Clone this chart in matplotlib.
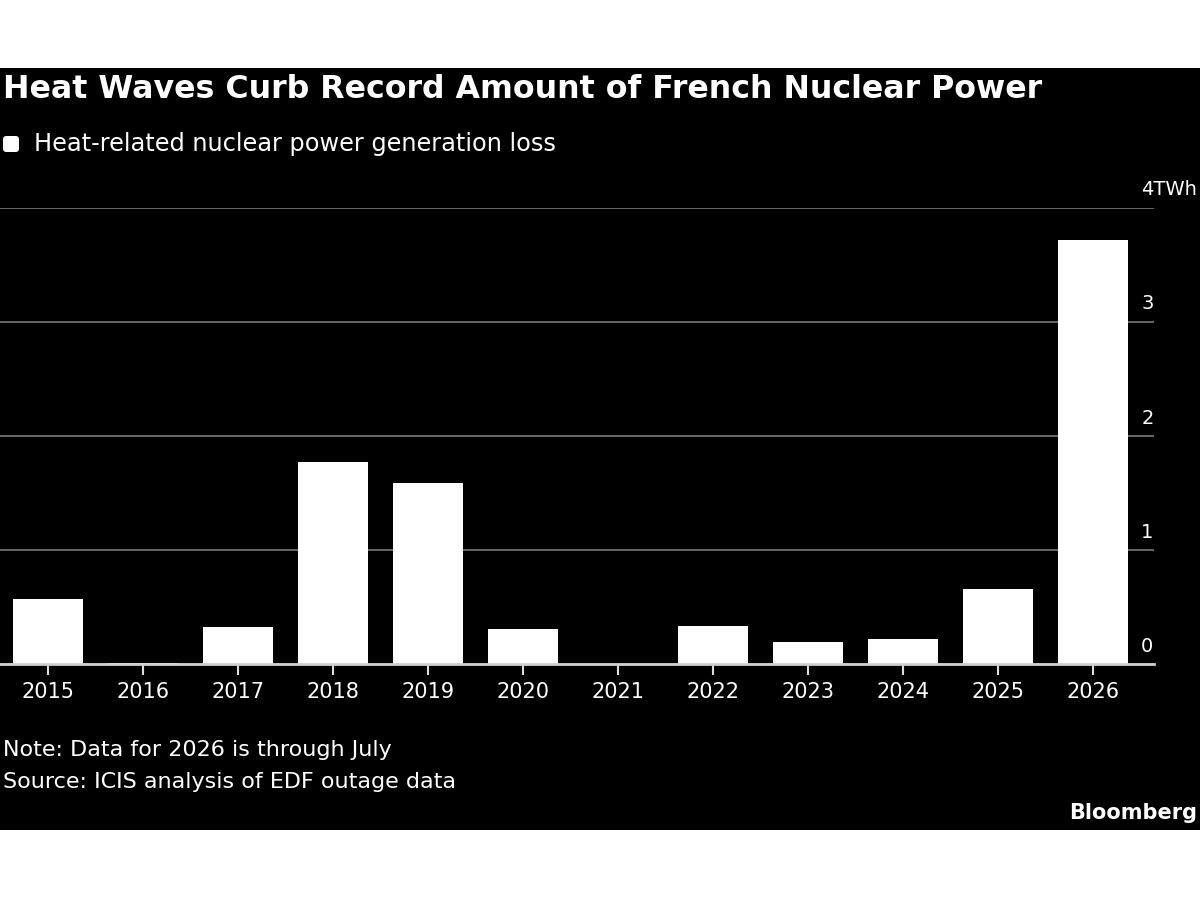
import numpy as np
import matplotlib.pyplot as plt
from matplotlib.patches import FancyBboxPatch, Rectangle
from matplotlib.transforms import IdentityTransform

# Datos
years = ['2015', '2016', '2017', '2018', '2019', '2020',
         '2021', '2022', '2023', '2024', '2025', '2026']
loss_twh = [0.57, 0.01, 0.32, 1.77, 1.59, 0.31,
            0.0, 0.33, 0.19, 0.22, 0.66, 3.72]
y_ticks = [0, 1, 2, 3, 4]
y_tick_labels = ['0', '1', '2', '3', '4TWh']

title = 'Heat Waves Curb Record Amount of French Nuclear Power'
legend_label = 'Heat-related nuclear power generation loss'
note = 'Note: Data for 2026 is through July'
source = 'Source: ICIS analysis of EDF outage data'

plt.rcParams['font.family'] = ['DejaVu Sans']

W, H = 1200, 900
fig = plt.figure(figsize=(W / 100, H / 100), dpi=100, facecolor='white')

# panel negro
fig.patches.append(Rectangle((0, (H - 830) / H), 1, 762 / H,
                             transform=fig.transFigure,
                             facecolor='black', edgecolor='none', zorder=-1))

ax = fig.add_axes([0, (H - 664) / H, 1154 / W, (664 - 207.7) / H])
ax.set_facecolor('black')

x = np.arange(len(years))
ax.bar(x, loss_twh, width=0.74, color='white', zorder=3)

ax.set_xlim(-0.505, 11.64)
ax.set_ylim(0, 4)
ax.set_axisbelow(True)

ax.set_yticks(y_ticks)
ax.yaxis.grid(True, color='#707070', lw=1.3)
ax.tick_params(axis='y', left=False, labelleft=False)

for s in ['top', 'right', 'left']:
    ax.spines[s].set_visible(False)
ax.spines['bottom'].set_color('#cfcfcf')
ax.spines['bottom'].set_linewidth(2)
ax.spines['bottom'].set_zorder(4)

ax.set_xticks(x, years)
ax.tick_params(axis='x', colors='#dddddd', length=8, width=1.5,
               labelcolor='white', labelsize=15, pad=5)

# etiquetas del eje y, sobre las líneas de grilla
for v, lab in zip(y_ticks, y_tick_labels):
    ax.annotate(lab, xy=(11.505, v), xytext=(0, 6), textcoords='offset points',
                ha='left', va='bottom', color='white', fontsize=14,
                annotation_clip=False)

# textos
fig.text(3 / W, (H - 89) / H, title, color='white', fontsize=22.8,
         fontweight='bold', va='center', ha='left')

fig.patches.append(FancyBboxPatch((3, H - 152), 16, 16,
                                  boxstyle='round,pad=0,rounding_size=3.5',
                                  transform=IdentityTransform(),
                                  facecolor='white', edgecolor='none'))
fig.text(34 / W, (H - 144) / H, legend_label, color='white', fontsize=17.3,
         va='center', ha='left')

fig.text(3 / W, (H - 750) / H, note, color='white', fontsize=16,
         va='center', ha='left')
fig.text(3 / W, (H - 782) / H, source, color='white', fontsize=16,
         va='center', ha='left')
fig.text(1197 / W, (H - 813) / H, 'Bloomberg', color='white', fontsize=15,
         fontweight='bold', va='center', ha='right')

fig.savefig('out.png', dpi=100, facecolor='white')
